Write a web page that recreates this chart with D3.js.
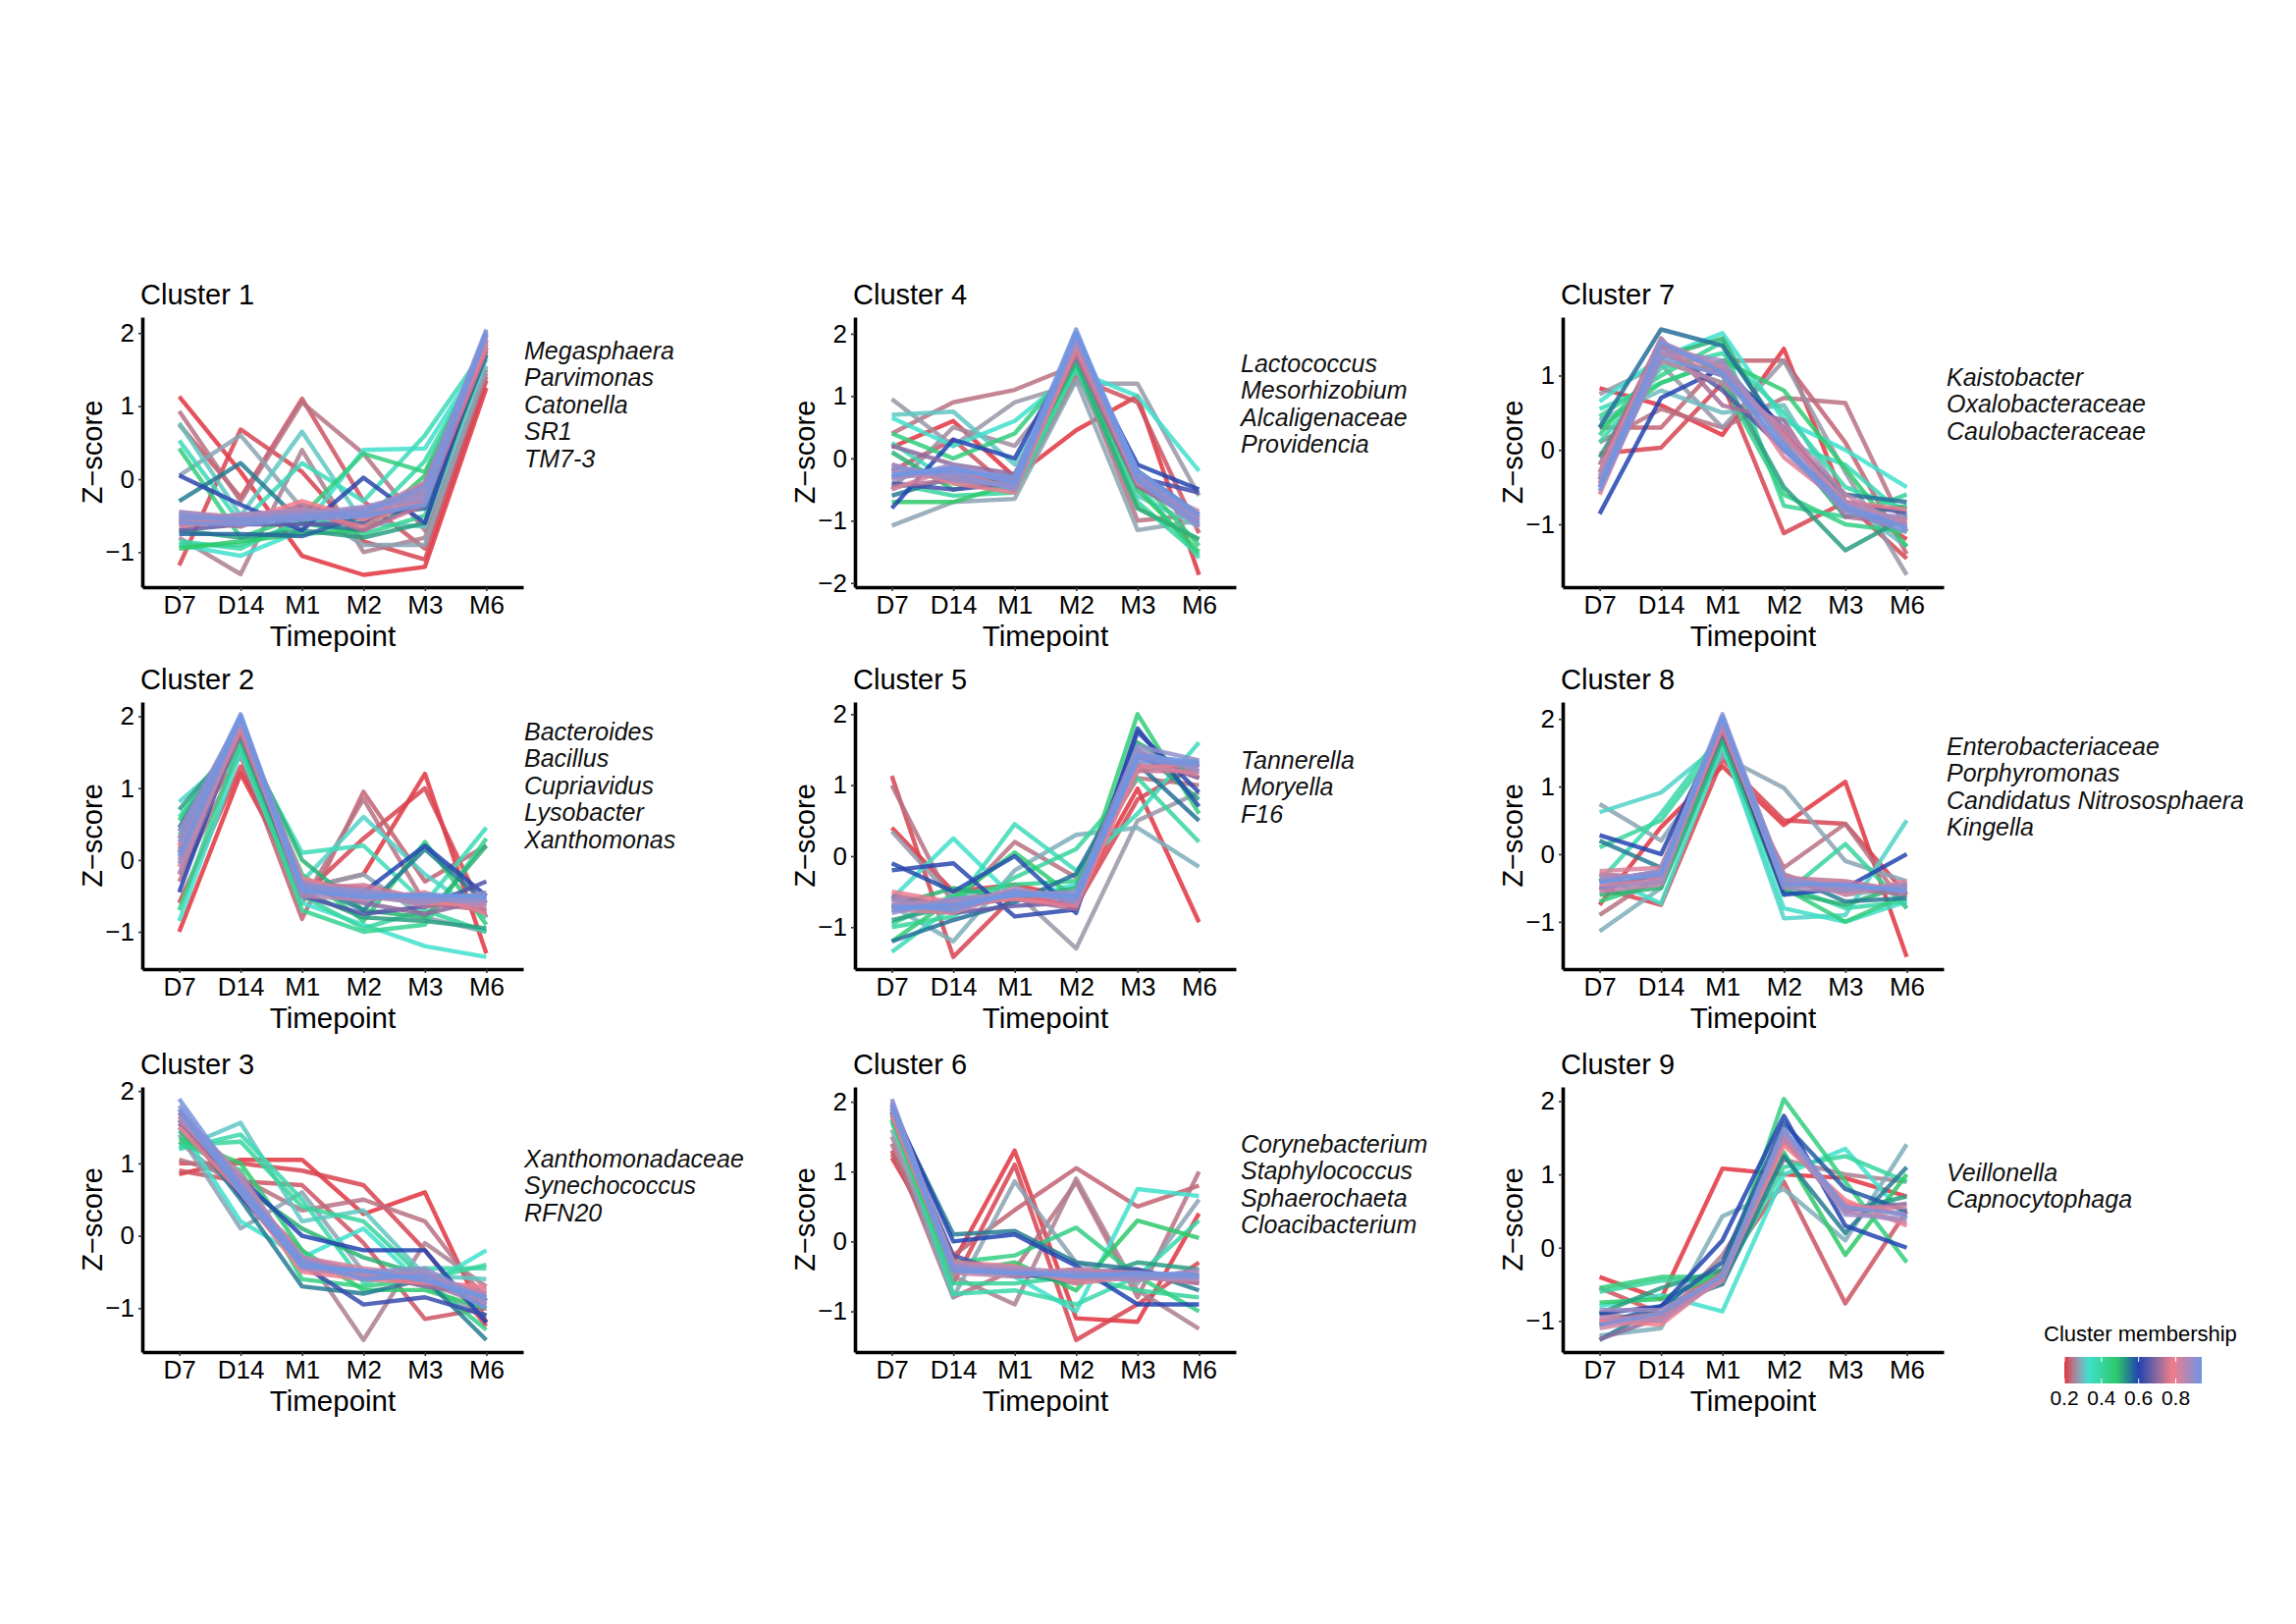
<!DOCTYPE html>
<html>
<head>
<meta charset="utf-8">
<script src="https://cdn.jsdelivr.net/npm/d3@7"></script>
<style>
  body { margin: 0; background: #fff; }
  text { font-family: "Liberation Sans", Arial, sans-serif; }
</style>
</head>
<body>
<div id="chart"></div>
<script>
const timepoints = ["D7", "D14", "M1", "M2", "M3", "M6"];

// each row: [membership, D7, D14, M1, M2, M3, M6]
const cluster1 = [
  [0.20, 1.13, 0.10, -1.05, -1.31, -1.20, 1.25],
  [0.21, -1.18, 0.68, 0.10, -0.85, -1.10, 1.35],
  [0.22, 0.75, -0.25, 1.10, -0.30, -0.95, 1.40],
  [0.24, 0.93, -0.30, 1.05, 0.35, -0.70, 1.50],
  [0.25, -0.80, -1.30, 0.40, -1.00, -0.80, 1.45],
  [0.28, 0.05, 0.60, -0.40, -0.90, -0.90, 1.55],
  [0.31, 0.77, -0.50, 0.65, -0.60, -0.65, 1.65],
  [0.33, -0.90, -1.05, -0.70, 0.40, 0.42, 1.75],
  [0.36, 0.53, -0.60, 0.22, -0.30, 0.60, 1.80],
  [0.38, -0.85, -0.95, -0.55, -0.60, 0.25, 1.75],
  [0.42, -0.90, -0.90, -0.60, -0.75, -0.50, 1.70],
  [0.45, 0.42, -0.80, -0.50, 0.35, 0.10, 1.85],
  [0.48, -0.95, -0.85, -0.75, -0.70, 0.05, 1.75],
  [0.52, -0.70, -0.80, -0.70, -0.80, -0.60, 1.80],
  [0.55, -0.30, 0.22, -0.60, -0.70, -0.30, 1.80],
  [0.57, -0.75, -0.75, -0.78, -0.50, -0.40, 1.70],
  [0.61, 0.05, -0.35, -0.70, 0.02, -0.60, 1.90],
  [0.66, -0.70, -0.62, -0.62, -0.60, -0.05, 1.85],
  [0.72, -0.55, -0.65, -0.35, -0.55, -0.30, 1.75],
  [0.74, -0.65, -0.55, -0.40, -0.70, -0.35, 1.80],
  [0.76, -0.60, -0.60, -0.45, -0.65, -0.20, 1.80],
  [0.78, -0.55, -0.58, -0.30, -0.55, -0.10, 1.85],
  [0.80, -0.62, -0.55, -0.48, -0.50, -0.25, 1.90],
  [0.83, -0.45, -0.52, -0.55, -0.45, -0.05, 1.95],
  [0.85, -0.50, -0.60, -0.50, -0.40, -0.20, 1.92],
  [0.86, -0.58, -0.48, -0.42, -0.52, -0.30, 1.97],
  [0.88, -0.55, -0.50, -0.45, -0.48, -0.15, 2.00],
  [0.89, -0.45, -0.55, -0.48, -0.38, -0.18, 1.98],
  [0.90, -0.48, -0.58, -0.52, -0.42, -0.25, 2.02],
  [0.92, -0.52, -0.55, -0.50, -0.45, -0.10, 2.05],
  [0.93, -0.60, -0.62, -0.55, -0.50, -0.35, 2.00]
];

const cluster2 = [
  [0.20, -1.00, 1.20, -0.40, -0.20, 1.20, -1.30],
  [0.21, -0.60, 1.30, -0.50, 0.30, 1.00, -0.80],
  [0.23, 0.20, 1.45, -0.82, 0.95, -0.30, 0.20],
  [0.24, -0.30, 1.50, -0.60, 0.85, -0.60, -0.70],
  [0.28, 0.40, 1.60, -0.40, -0.20, -0.80, -1.00],
  [0.32, 0.81, 1.55, -0.30, 0.60, -0.20, -0.80],
  [0.33, -0.85, 1.50, -0.60, -0.90, -1.20, -1.35],
  [0.36, 0.60, 1.70, 0.10, 0.20, -0.60, 0.45],
  [0.40, 0.35, 1.55, -0.50, -0.95, -0.70, -1.00],
  [0.42, -0.70, 1.65, -0.70, -1.00, -0.90, 0.30],
  [0.46, 0.55, 1.75, -0.20, -0.85, 0.25, -0.90],
  [0.50, 0.30, 1.80, 0.00, -0.70, -0.80, 0.20],
  [0.52, 0.70, 1.70, -0.45, -0.80, -0.85, -0.95],
  [0.55, 0.45, 1.85, -0.30, -0.70, 0.15, -0.60],
  [0.60, -0.45, 1.90, -0.40, -0.45, 0.20, -0.50],
  [0.64, 0.10, 1.85, -0.50, -0.75, -0.65, -0.30],
  [0.70, -0.20, 1.75, -0.35, -0.60, -0.75, -0.55],
  [0.73, 0.15, 1.80, -0.30, -0.40, -0.65, -0.60],
  [0.75, 0.00, 1.80, -0.40, -0.35, -0.55, -0.70],
  [0.78, 0.20, 1.90, -0.25, -0.50, -0.60, -0.60],
  [0.80, -0.10, 1.85, -0.35, -0.55, -0.45, -0.75],
  [0.83, 0.30, 1.95, -0.40, -0.50, -0.55, -0.50],
  [0.85, -0.20, 1.90, -0.50, -0.55, -0.50, -0.65],
  [0.86, 0.10, 2.00, -0.30, -0.45, -0.50, -0.55],
  [0.89, -0.05, 1.95, -0.45, -0.50, -0.60, -0.45],
  [0.90, 0.40, 1.98, -0.38, -0.42, -0.55, -0.58],
  [0.92, 0.25, 2.03, -0.35, -0.48, -0.52, -0.50],
  [0.94, 0.05, 2.00, -0.42, -0.52, -0.48, -0.52]
];

const cluster3 = [
  [0.20, 0.85, 1.05, 1.05, 0.30, 0.60, -1.20],
  [0.21, 1.00, 1.00, 0.90, 0.70, -0.20, -1.25],
  [0.22, 0.90, 0.75, 0.70, -0.10, -1.15, -1.00],
  [0.24, 1.05, 0.80, 0.35, 0.50, 0.20, -0.90],
  [0.25, 1.30, 0.60, -0.20, -1.44, -0.10, -0.70],
  [0.28, 1.40, 0.10, 0.60, -0.50, -0.70, -1.10],
  [0.31, 1.20, 1.56, 0.20, 0.35, -0.55, -0.60],
  [0.33, 1.50, 0.20, -0.30, 0.10, -0.70, -0.20],
  [0.38, 1.20, 1.40, 0.50, -0.65, -0.45, -0.45],
  [0.40, 1.25, 1.30, 0.40, 0.20, -0.60, -0.40],
  [0.44, 1.30, 0.90, -0.60, -0.70, -0.60, -1.30],
  [0.47, 1.35, 1.00, -0.20, -0.75, -0.75, -1.00],
  [0.50, 1.45, 0.70, 0.10, -0.30, -0.55, -0.90],
  [0.55, 1.60, 0.50, -0.70, -0.80, -0.60, -1.44],
  [0.60, 1.55, 0.80, 0.00, -0.20, -0.20, -1.20],
  [0.62, 1.70, 0.55, -0.40, -0.95, -0.85, -1.10],
  [0.70, 1.60, 0.65, -0.30, -0.50, -0.70, -0.80],
  [0.73, 1.55, 0.75, -0.45, -0.55, -0.65, -0.95],
  [0.76, 1.65, 0.70, -0.35, -0.55, -0.60, -0.75],
  [0.79, 1.50, 0.60, -0.50, -0.60, -0.65, -0.70],
  [0.82, 1.75, 0.75, -0.30, -0.45, -0.55, -0.85],
  [0.84, 1.70, 0.85, -0.40, -0.50, -0.60, -0.80],
  [0.86, 1.60, 0.80, -0.45, -0.55, -0.50, -0.95],
  [0.88, 1.65, 0.70, -0.30, -0.60, -0.50, -0.90],
  [0.90, 1.80, 0.65, -0.40, -0.50, -0.45, -0.90],
  [0.93, 1.89, 0.70, -0.35, -0.60, -0.55, -1.00],
  [0.95, 1.75, 0.60, -0.42, -0.48, -0.62, -0.85]
];

const cluster4 = [
  [0.20, 0.18, 0.60, -0.30, 0.45, 1.00, -1.87],
  [0.22, -0.20, 0.30, -0.55, 1.30, 0.90, -1.20],
  [0.24, 0.40, 0.90, 1.10, 1.50, -1.00, -0.90],
  [0.26, -0.50, 0.50, 0.20, 1.40, -0.80, -1.30],
  [0.27, 0.95, 0.20, 0.90, 1.20, 1.20, -0.60],
  [0.28, -1.08, -0.70, -0.65, 1.25, -1.15, -1.00],
  [0.31, 0.70, 0.75, -0.10, 1.50, -0.60, -1.10],
  [0.33, 0.65, 0.20, 0.60, 1.40, 1.00, -0.20],
  [0.36, 0.25, -0.40, -0.50, 1.45, -0.40, -1.60],
  [0.40, -0.40, -0.60, -0.55, 1.45, -0.70, -1.55],
  [0.45, 0.40, 0.00, 0.40, 1.55, -0.30, -1.40],
  [0.48, -0.70, -0.70, -0.40, 1.60, -0.50, -1.50],
  [0.50, 0.10, -0.50, -0.30, 1.55, -0.80, -1.30],
  [0.55, -0.60, -0.30, -0.35, 1.70, -0.20, -0.90],
  [0.60, -0.80, 0.30, 0.00, 1.80, -0.10, -0.50],
  [0.63, -0.40, -0.50, -0.40, 1.75, -0.30, -0.55],
  [0.70, 0.20, -0.10, -0.25, 1.65, -0.45, -1.00],
  [0.73, -0.45, -0.35, -0.45, 1.70, -0.40, -1.05],
  [0.76, -0.30, -0.20, -0.50, 1.75, -0.35, -0.95],
  [0.79, -0.10, -0.40, -0.55, 1.80, -0.25, -1.10],
  [0.82, -0.50, -0.15, -0.40, 1.90, -0.40, -0.85],
  [0.84, -0.30, -0.25, -0.30, 1.85, -0.30, -0.95],
  [0.85, -0.20, -0.30, -0.45, 1.85, -0.20, -1.00],
  [0.88, -0.35, -0.10, -0.35, 1.95, -0.30, -0.90],
  [0.89, -0.10, -0.35, -0.45, 1.90, -0.35, -1.10],
  [0.91, -0.15, -0.25, -0.50, 2.00, -0.25, -0.95],
  [0.93, -0.25, -0.20, -0.30, 2.07, -0.35, -1.05],
  [0.95, -0.28, -0.15, -0.40, 2.02, -0.20, -0.90]
];

const cluster5 = [
  [0.20, 0.40, -0.50, -0.40, -0.60, 0.95, -0.93],
  [0.21, 1.13, -1.42, -0.55, -0.70, 0.80, 1.30],
  [0.24, 1.00, -0.70, 0.20, -0.30, 1.10, 1.00],
  [0.27, 0.35, -0.60, -0.50, -1.30, 0.50, 0.90],
  [0.29, -0.70, -1.20, -0.20, 0.30, 0.40, -0.15],
  [0.33, -0.60, 0.25, -0.60, -0.40, 1.30, 1.20],
  [0.36, -1.35, -0.70, 0.45, -0.20, 0.60, 1.60],
  [0.40, -1.00, -0.85, -0.30, 0.10, 1.10, 0.20],
  [0.43, -0.95, -0.55, -0.40, -0.35, 1.20, 1.35],
  [0.46, -1.20, -0.60, 0.05, -0.60, 2.00, 0.60],
  [0.50, -0.70, -0.45, -0.60, -0.45, 1.60, 1.10],
  [0.52, -0.90, -0.70, -0.50, -0.55, 1.50, 0.80],
  [0.56, -1.20, -0.90, -0.65, -0.25, 1.30, 0.50],
  [0.59, -0.10, -0.50, 0.00, -0.80, 1.80, 0.70],
  [0.61, -0.20, -0.10, -0.85, -0.75, 1.75, 0.90],
  [0.66, -0.60, -0.80, -0.70, -0.65, 1.40, 1.10],
  [0.72, -0.55, -0.70, -0.60, -0.75, 1.45, 1.10],
  [0.75, -0.70, -0.75, -0.55, -0.60, 1.20, 1.20],
  [0.79, -0.50, -0.65, -0.60, -0.70, 1.25, 1.30],
  [0.82, -0.75, -0.80, -0.50, -0.55, 1.30, 1.15],
  [0.84, -0.72, -0.62, -0.52, -0.58, 1.40, 1.30],
  [0.86, -0.65, -0.70, -0.45, -0.62, 1.45, 1.25],
  [0.88, -0.60, -0.78, -0.48, -0.66, 1.50, 1.20],
  [0.90, -0.80, -0.60, -0.55, -0.50, 1.55, 1.35],
  [0.93, -0.70, -0.75, -0.50, -0.60, 1.35, 1.28],
  [0.95, -0.75, -0.68, -0.55, -0.55, 1.42, 1.32]
];

const cluster6 = [
  [0.20, 1.20, -0.30, 1.30, -1.10, -1.15, 0.40],
  [0.21, 1.30, -0.60, 1.10, -1.41, -0.90, -0.30],
  [0.23, 1.25, -0.20, 0.45, 1.05, 0.50, 0.80],
  [0.24, 1.40, -0.80, -0.40, 0.85, -0.80, 1.00],
  [0.25, 1.50, -0.50, -0.90, 0.90, -0.70, -1.25],
  [0.28, 1.60, -0.80, 0.86, -0.30, -0.60, 0.60],
  [0.33, 1.70, -0.40, -0.50, -1.00, 0.75, 0.65],
  [0.38, 1.85, -0.75, -0.70, -0.90, -0.50, 0.30],
  [0.41, 1.75, -0.60, -0.60, -0.50, -0.70, -0.80],
  [0.44, 1.80, -0.30, -0.20, 0.20, -0.50, -1.00],
  [0.48, 1.75, -0.45, -0.30, -0.70, 0.30, 0.05],
  [0.52, 1.85, -0.35, -0.45, -0.60, -0.30, -0.40],
  [0.55, 1.90, 0.10, 0.15, -0.30, -0.40, -0.70],
  [0.60, 1.95, 0.00, 0.10, -0.35, -0.90, -0.90],
  [0.64, 1.85, -0.20, -0.50, -0.45, -0.40, -0.60],
  [0.72, 1.90, -0.35, -0.40, -0.55, -0.45, -0.50],
  [0.74, 1.85, -0.30, -0.45, -0.40, -0.50, -0.60],
  [0.77, 1.80, -0.40, -0.45, -0.50, -0.55, -0.45],
  [0.80, 1.95, -0.30, -0.35, -0.60, -0.50, -0.55],
  [0.82, 1.92, -0.38, -0.42, -0.55, -0.48, -0.48],
  [0.84, 2.00, -0.45, -0.50, -0.40, -0.45, -0.50],
  [0.86, 1.98, -0.32, -0.38, -0.45, -0.52, -0.55],
  [0.88, 1.90, -0.40, -0.40, -0.50, -0.55, -0.40],
  [0.91, 2.04, -0.35, -0.45, -0.45, -0.50, -0.52],
  [0.94, 1.95, -0.42, -0.45, -0.50, -0.45, -0.48]
];

const cluster7 = [
  [0.20, 0.83, 0.60, 0.20, 1.36, -0.70, -1.20],
  [0.21, -0.05, 0.03, 0.90, -1.12, -0.70, -1.46],
  [0.23, 0.30, 0.30, 1.20, 1.20, 0.10, -1.40],
  [0.24, 0.10, 0.55, 0.30, 0.70, 0.63, -1.10],
  [0.27, 0.75, 1.15, 0.30, 1.20, -0.30, -1.68],
  [0.30, 0.40, 0.80, 0.50, 0.60, -0.70, -1.30],
  [0.33, 0.65, 1.25, 1.57, 0.40, 0.00, -0.50],
  [0.36, 0.55, 0.90, 1.20, 0.10, -0.20, -0.90],
  [0.38, 0.10, 1.10, 1.30, 0.50, -0.50, -0.80],
  [0.42, 0.45, 1.00, 1.45, -0.75, -0.90, -0.60],
  [0.44, 0.20, 1.20, 0.90, -0.60, -1.00, -1.10],
  [0.47, 0.30, 0.90, 1.20, 0.80, -0.25, -1.30],
  [0.50, -0.30, 1.25, 1.50, 0.10, -0.90, -0.75],
  [0.52, -0.10, 1.30, 1.00, -0.50, -1.35, -0.90],
  [0.56, 0.30, 1.62, 1.40, 0.20, -0.60, -0.70],
  [0.60, -0.86, 0.70, 1.10, 0.30, -0.80, -1.00],
  [0.65, -0.40, 1.40, 0.80, 0.00, -0.70, -0.85],
  [0.72, -0.20, 1.50, 0.60, 0.40, -0.90, -1.00],
  [0.74, -0.45, 1.40, 1.05, 0.25, -0.80, -0.95],
  [0.77, -0.60, 1.30, 1.00, 0.20, -0.70, -0.80],
  [0.80, -0.30, 1.45, 1.10, -0.10, -0.75, -0.95],
  [0.84, -0.50, 1.20, 0.90, 0.30, -0.60, -1.05],
  [0.86, -0.35, 1.30, 1.15, 0.15, -0.70, -1.00],
  [0.88, -0.40, 1.35, 1.20, 0.10, -0.85, -0.90],
  [0.92, -0.55, 1.25, 1.00, 0.00, -0.80, -1.10],
  [0.94, -0.50, 1.45, 1.05, 0.05, -0.75, -1.05]
];

const cluster8 = [
  [0.20, -0.75, 0.40, 1.30, 0.43, 1.07, -1.52],
  [0.21, -0.50, -0.75, 1.40, 0.50, 0.45, -0.60],
  [0.24, -0.90, -0.30, 1.50, -0.20, 0.45, -0.80],
  [0.28, 0.74, 0.20, 1.45, 0.98, -0.10, -0.40],
  [0.29, -1.14, -0.50, 1.60, -0.30, -0.60, -0.50],
  [0.32, 0.62, 0.91, 1.65, -0.95, -0.90, 0.50],
  [0.34, -0.30, -0.73, 1.60, -0.80, -1.00, -0.70],
  [0.38, -0.40, 0.60, 1.80, -0.45, -0.80, -0.70],
  [0.40, 0.10, 0.50, 1.70, -0.60, 0.15, -0.80],
  [0.45, -0.70, -0.40, 1.75, -0.50, -1.00, -0.60],
  [0.50, -0.60, -0.50, 1.70, -0.55, -0.75, -0.45],
  [0.55, 0.20, -0.20, 1.85, -0.30, -0.70, -0.65],
  [0.60, 0.28, 0.00, 1.90, -0.60, -0.50, 0.00],
  [0.66, -0.50, -0.30, 1.80, -0.40, -0.55, -0.45],
  [0.72, -0.40, -0.25, 1.85, -0.40, -0.50, -0.60],
  [0.74, -0.30, -0.35, 1.85, -0.35, -0.40, -0.55],
  [0.78, -0.45, -0.40, 1.90, -0.45, -0.50, -0.50],
  [0.81, -0.25, -0.20, 1.95, -0.30, -0.60, -0.40],
  [0.83, -0.30, -0.35, 1.92, -0.42, -0.48, -0.52],
  [0.84, -0.55, -0.45, 2.00, -0.40, -0.45, -0.55],
  [0.87, -0.35, -0.30, 1.95, -0.50, -0.55, -0.45],
  [0.88, -0.50, -0.40, 2.00, -0.38, -0.52, -0.48],
  [0.90, -0.40, -0.25, 2.07, -0.35, -0.50, -0.50],
  [0.94, -0.42, -0.30, 2.03, -0.45, -0.45, -0.55]
];

const cluster9 = [
  [0.20, -0.40, -0.70, 1.08, 1.00, 0.95, 0.70],
  [0.22, -0.55, -0.90, -0.30, 0.90, -0.76, 0.50],
  [0.25, -0.90, -1.00, -0.10, 1.20, 1.00, 0.90],
  [0.29, -1.20, -1.10, 0.43, 0.80, 0.10, 1.41],
  [0.33, -0.80, -0.65, -0.87, 1.00, 1.35, 0.40],
  [0.40, -0.60, -0.45, -0.45, 1.10, 1.25, 0.90],
  [0.45, -0.55, -0.40, -0.40, 2.03, 0.90, -0.20],
  [0.48, -0.75, -0.70, -0.35, 1.30, -0.10, 1.00],
  [0.52, -0.90, -0.55, -0.30, 1.50, 0.50, 0.70],
  [0.55, -1.26, -0.80, -0.50, 1.25, 0.20, 1.10],
  [0.58, -1.05, -0.80, -0.20, 1.70, 0.80, 0.50],
  [0.60, -0.90, -0.80, 0.10, 1.80, 0.30, 0.00],
  [0.70, -1.25, -0.95, -0.40, 1.50, 0.50, 0.60],
  [0.75, -1.00, -0.90, -0.35, 1.45, 0.60, 0.45],
  [0.78, -1.00, -1.05, -0.40, 1.40, 0.65, 0.30],
  [0.82, -1.10, -0.95, -0.45, 1.55, 0.55, 0.55],
  [0.85, -0.95, -1.00, -0.42, 1.50, 0.50, 0.35],
  [0.88, -0.85, -0.85, -0.40, 1.60, 0.45, 0.40],
  [0.92, -1.05, -0.90, -0.38, 1.62, 0.55, 0.45]
];

const clusterData = [cluster1, cluster2, cluster3, cluster4, cluster5, cluster6, cluster7, cluster8, cluster9];
const clusterTitles = ["Cluster 1", "Cluster 2", "Cluster 3", "Cluster 4", "Cluster 5",
                       "Cluster 6", "Cluster 7", "Cluster 8", "Cluster 9"];
const clusterGenera = [
  ["Megasphaera", "Parvimonas", "Catonella", "SR1", "TM7-3"],
  ["Bacteroides", "Bacillus", "Cupriavidus", "Lysobacter", "Xanthomonas"],
  ["Xanthomonadaceae", "Synechococcus", "RFN20"],
  ["Lactococcus", "Mesorhizobium", "Alcaligenaceae", "Providencia"],
  ["Tannerella", "Moryella", "F16"],
  ["Corynebacterium", "Staphylococcus", "Sphaerochaeta", "Cloacibacterium"],
  ["Kaistobacter", "Oxalobacteraceae", "Caulobacteraceae"],
  ["Enterobacteriaceae", "Porphyromonas", "Candidatus Nitrososphaera", "Kingella"],
  ["Veillonella", "Capnocytophaga"]
];

const memberStops = [0.20, 0.245, 0.285, 0.33, 0.48, 0.60, 0.70, 0.78, 0.94];
const memberColors = ["#e2343f", "#b2798c", "#86a8b8", "#40e0cc", "#2ec96a",
                      "#2244b0", "#8c6a9e", "#f27c8a", "#6f95e3"];
const legendTicks = [0.2, 0.4, 0.6, 0.8];

// layout
const W = 2339, H = 1654;
const colLeft = [145, 871, 1592];
const rowTop = [323, 715, 1107];
const rowBottom = [598, 987, 1377];
const plotW = 388;
const genusX = [534, 1264, 1983];
const genusTop = [357, 745, 1180, 370, 774, 1165, 384, 760, 1194];

const color = d3.scaleLinear()
    .domain(memberStops)
    .range(memberColors)
    .clamp(true);

const svg = d3.select("#chart").append("svg")
    .attr("width", W)
    .attr("height", H)
    .style("display", "block");

svg.append("rect").attr("width", W).attr("height", H).attr("fill", "#fff");

clusterData.forEach(function(lines, i) {
    const col = Math.floor(i / 3), row = i % 3;
    const left = colLeft[col], top = rowTop[row], bottom = rowBottom[row];
    const h = bottom - top;

    // ggplot-like 5% expansion of the data range
    const allVals = lines.flatMap(d => d.slice(1));
    const lo = d3.min(allVals), hi = d3.max(allVals);
    const pad = (hi - lo) * 0.05;

    const x = d3.scalePoint().domain(timepoints).range([0, plotW]).padding(0.6);
    const y = d3.scaleLinear().domain([lo - pad, hi + pad]).range([h, 0]);

    const g = svg.append("g").attr("transform", `translate(${left}, ${top})`);

    const line = d3.line()
        .x((v, k) => x(timepoints[k]))
        .y(v => y(v));

    const sorted = lines.slice().sort((a, b) => a[0] - b[0]);
    g.selectAll("path.member")
        .data(sorted)
        .enter()
        .append("path")
        .attr("class", "member")
        .attr("d", d => line(d.slice(1)))
        .attr("fill", "none")
        .attr("stroke", d => color(d[0]))
        .attr("stroke-width", 4.4)
        .attr("stroke-opacity", 0.85)
        .attr("stroke-linejoin", "round");

    const yTicks = d3.range(Math.ceil(lo - pad), Math.floor(hi + pad) + 1);
    const yAxis = g.append("g")
        .call(d3.axisLeft(y).tickValues(yTicks).tickFormat(d3.format("d"))
            .tickSize(4).tickSizeOuter(0).tickPadding(4));
    const xAxis = g.append("g")
        .attr("transform", `translate(0, ${h})`)
        .call(d3.axisBottom(x).tickSize(4).tickSizeOuter(0).tickPadding(3));

    [yAxis, xAxis].forEach(a => {
        a.attr("font-family", null).attr("font-size", null);
        a.select(".domain").attr("stroke", "#000").attr("stroke-width", 3.6);
        a.selectAll(".tick line").attr("stroke", "#333").attr("stroke-width", 1.6);
        a.selectAll(".tick text").attr("fill", "#000").style("font-size", "26px");
    });
    xAxis.selectAll(".tick text").attr("dy", "0.76em");

    g.append("text")
        .attr("x", -2)
        .attr("y", -13)
        .style("font-size", "29px")
        .attr("fill", "#000")
        .text(clusterTitles[i]);

    g.append("text")
        .attr("transform", `translate(-41, ${h / 2}) rotate(-90)`)
        .attr("text-anchor", "middle")
        .style("font-size", "29px")
        .attr("fill", "#000")
        .text("Z\u2212score");

    g.append("text")
        .attr("x", plotW / 2)
        .attr("y", h + 60)
        .attr("text-anchor", "middle")
        .style("font-size", "29.5px")
        .attr("fill", "#000")
        .text("Timepoint");

    svg.append("g")
        .selectAll("text")
        .data(clusterGenera[i])
        .enter()
        .append("text")
        .attr("x", genusX[col])
        .attr("y", (d, k) => genusTop[i] + k * 27.5)
        .attr("dy", "0.35em")
        .style("font-size", "25px")
        .style("font-style", "italic")
        .attr("fill", "#111")
        .text(d => d);
});

// colour bar legend
const legX = d3.scaleLinear().domain([0.2, 0.94]).range([2103, 2243]);
const grad = svg.append("defs").append("linearGradient")
    .attr("id", "memberGrad")
    .attr("x1", "0%").attr("x2", "100%").attr("y1", "0%").attr("y2", "0%");
d3.range(0, 1.0001, 0.02).forEach(t => {
    const v = 0.2 + t * 0.74;
    grad.append("stop").attr("offset", `${t * 100}%`).attr("stop-color", color(v));
});

svg.append("text")
    .attr("x", 2082)
    .attr("y", 1366)
    .style("font-size", "22px")
    .attr("fill", "#000")
    .text("Cluster membership");

svg.append("rect")
    .attr("x", legX(0.2))
    .attr("y", 1382)
    .attr("width", legX(0.94) - legX(0.2))
    .attr("height", 27)
    .attr("fill", "url(#memberGrad)");

const legTickG = svg.append("g");
legendTicks.forEach(v => {
    legTickG.append("line")
        .attr("x1", legX(v)).attr("x2", legX(v))
        .attr("y1", 1382).attr("y2", 1387)
        .attr("stroke", "#fff").attr("stroke-width", 1);
    legTickG.append("line")
        .attr("x1", legX(v)).attr("x2", legX(v))
        .attr("y1", 1404).attr("y2", 1409)
        .attr("stroke", "#fff").attr("stroke-width", 1);
    legTickG.append("text")
        .attr("x", legX(v))
        .attr("y", 1431)
        .attr("text-anchor", "middle")
        .style("font-size", "21px")
        .attr("fill", "#000")
        .text(v.toFixed(1));
});
</script>
</body>
</html>
